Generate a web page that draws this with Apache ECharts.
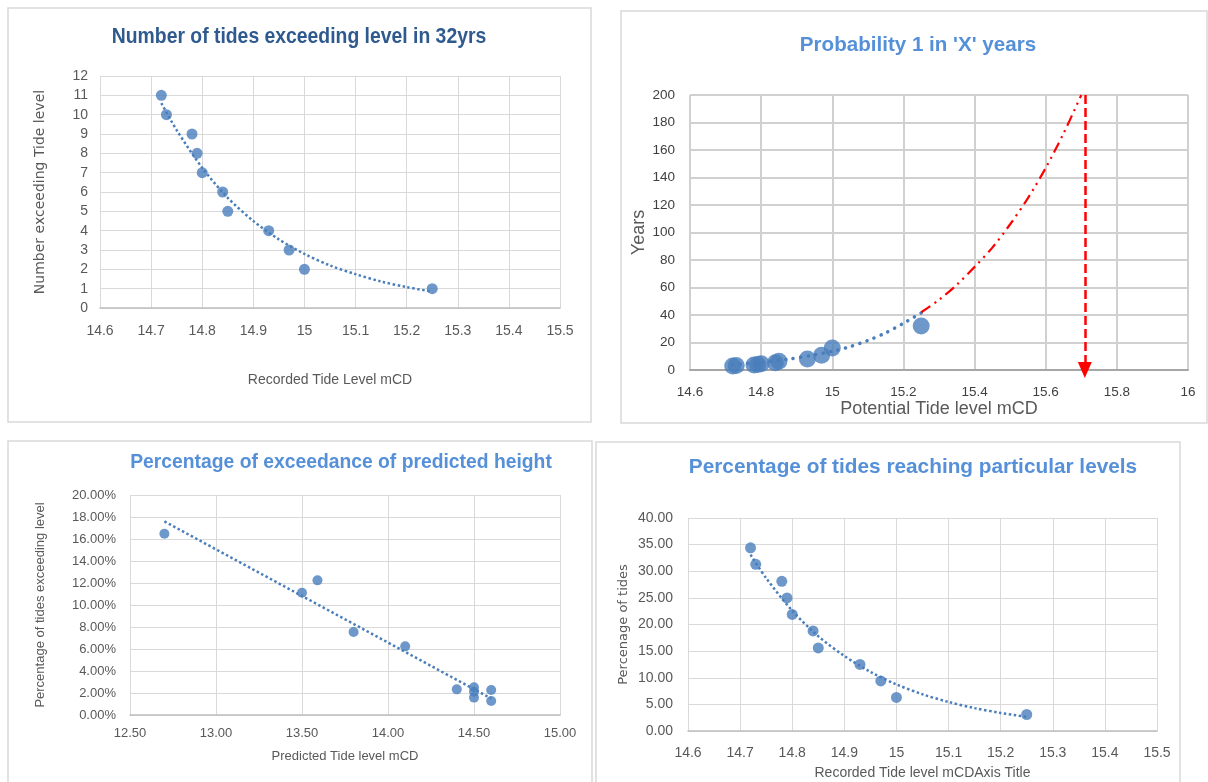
<!DOCTYPE html>
<html>
<head>
<meta charset="utf-8">
<title>Tide levels</title>
<script src="https://cdn.jsdelivr.net/npm/echarts@6/dist/echarts.min.js"></script>
<style>
  html, body { margin: 0; padding: 0; background: #fff; }
  #main { width: 1208px; height: 782px; }
</style>
</head>
<body>
<div id="main"></div>
<script>
// recorded tide levels and how often they were exceeded (32 years of records)
const tideLevels = [14.72, 14.73, 14.78, 14.79, 14.80, 14.84, 14.85, 14.93, 14.97, 15.00, 15.25];
const tideCounts = [11, 10, 9, 8, 7, 6, 5, 4, 3, 2, 1];
const countTrendX = [14.72, 14.75, 14.8, 14.85, 14.9, 14.95, 15.0, 15.05, 15.1, 15.15, 15.2, 15.25];
const countTrendY = [10.6, 9.2, 7.25, 5.7, 4.5, 3.55, 2.8, 2.2, 1.75, 1.37, 1.08, 0.85];

// probability 1 in X years
const returnYears = [2.9, 3.2, 3.6, 4.0, 4.6, 5.3, 6.4, 8.0, 10.7, 16.0, 32.0];
const yearsTrendX = [14.72, 14.8, 14.88, 14.95, 15.0, 15.05, 15.1, 15.15, 15.2, 15.25];
const yearsTrendY = [3.9, 5.6, 8.0, 11.0, 13.6, 17.0, 21.5, 27.0, 34.0, 41.5];
const projX = [15.25, 15.3, 15.35, 15.4, 15.45, 15.5, 15.55, 15.6, 15.65, 15.7];
const projY = [42, 51, 62, 75, 89, 106, 125, 147, 172, 200];
const arrowX = 15.71;
const arrowTop = 200;
const arrowBottom = 0;

// predicted heights
const predictedLevels = [12.70, 13.50, 13.59, 13.80, 14.10, 14.40, 14.50, 14.50, 14.50, 14.60, 14.60];
const exceedPct = [16.48, 11.12, 12.24, 7.55, 6.24, 2.33, 2.52, 2.12, 1.58, 2.27, 1.27];
const exceedTrendX = [12.70, 14.60];
const exceedTrendY = [17.6, 1.5];

// percentage of tides reaching levels
const tidePct = [34.4, 31.3, 28.1, 25.0, 21.9, 18.8, 15.6, 12.5, 9.4, 6.3, 3.1];
const pctTrendY = [33.1, 28.7, 22.6, 17.8, 14.1, 11.1, 8.75, 6.9, 5.45, 4.3, 3.4, 2.65];

const zip = (xs, ys) => xs.map((x, i) => [x, ys[i]]);

const blue = '#4a7ebb';
const grey = '#595959';
const gridGrey = '#d9d9d9';
const sans = "'Liberation Sans', Arial, sans-serif";

function valueAxis(idx, min, max, interval, extra) {
  return Object.assign({
    type: 'value',
    gridIndex: idx,
    min: min,
    max: max,
    interval: interval,
    axisTick: { show: false },
    axisLine: { show: false },
    splitLine: { show: true, lineStyle: { color: gridGrey, width: 1 } },
    axisLabel: { color: grey, fontFamily: sans, fontSize: 14 },
    nameLocation: 'middle',
    nameTextStyle: { color: grey, fontFamily: sans, fontSize: 14 }
  }, extra);
}

function titleText(x, y, text, color, size, scaleX) {
  return {
    type: 'text', x: x, y: y, scaleX: scaleX || 1,
    style: {
      text: text, fill: color,
      font: 'bold ' + size + "px 'Liberation Sans', Arial, sans-serif",
      textAlign: 'center', textVerticalAlign: 'middle'
    }
  };
}

let myChart = echarts.init(document.getElementById('main'), null, { renderer: 'canvas' });

let option = {
  backgroundColor: '#fff',
  animation: false,
  graphic: [
    { type: 'rect', shape: { x: 8, y: 8, width: 583, height: 414 }, style: { fill: 'none', stroke: gridGrey, lineWidth: 1.5 } },
    { type: 'rect', shape: { x: 621, y: 11, width: 586, height: 412 }, style: { fill: 'none', stroke: gridGrey, lineWidth: 1.5 } },
    { type: 'rect', shape: { x: 8, y: 441, width: 584, height: 345 }, style: { fill: 'none', stroke: gridGrey, lineWidth: 1.5 } },
    { type: 'rect', shape: { x: 596, y: 442, width: 584, height: 345 }, style: { fill: 'none', stroke: gridGrey, lineWidth: 1.5 } },
    titleText(299, 37, 'Number of tides exceeding level in 32yrs', '#2f5a8f', 22, 0.88),
    titleText(918, 45, "Probability 1 in 'X' years", '#5590d8', 21, 0.98),
    titleText(341, 463, 'Percentage of exceedance of predicted height', '#5590d8', 19.5, 0.99),
    titleText(913, 467, 'Percentage of tides reaching particular levels', '#5590d8', 21, 0.99)
  ],
  grid: [
    { left: 100, top: 76, width: 460, height: 232 },
    { left: 690, top: 95, width: 498, height: 275 },
    { left: 130, top: 495, width: 430, height: 220 },
    { left: 688, top: 518, width: 469, height: 213 }
  ],
  xAxis: [
    valueAxis(0, 14.6, 15.5, 0.1, {
      name: 'Recorded Tide Level mCD', nameGap: 65,
      axisLine: { show: true, lineStyle: { color: '#bfbfbf', width: 1.5 } },
      axisLabel: { color: grey, fontFamily: sans, fontSize: 14, margin: 16 }
    }),
    valueAxis(1, 14.6, 16, 0.2, {
      name: 'Potential Tide level mCD', nameGap: 28,
      nameTextStyle: { color: grey, fontFamily: sans, fontSize: 18 },
      axisLine: { show: true, lineStyle: { color: '#a6a6a6', width: 2 } },
      splitLine: { show: true, lineStyle: { color: '#d0d0d0', width: 2 } },
      axisLabel: { color: '#404040', fontFamily: sans, fontSize: 13.5, margin: 15 }
    }),
    valueAxis(2, 12.5, 15, 0.5, {
      name: 'Predicted Tide level mCD', nameGap: 35,
      nameTextStyle: { color: grey, fontFamily: sans, fontSize: 13 },
      axisLine: { show: true, lineStyle: { color: '#bfbfbf', width: 1.5 } },
      axisLabel: { color: grey, fontFamily: sans, fontSize: 13, margin: 12, formatter: v => v.toFixed(2) }
    }),
    valueAxis(3, 14.6, 15.5, 0.1, {
      name: 'Recorded Tide level mCDAxis Title', nameGap: 35,
      axisLine: { show: true, lineStyle: { color: '#bfbfbf', width: 1.5 } },
      axisLabel: { color: grey, fontFamily: sans, fontSize: 14, margin: 15 }
    })
  ],
  yAxis: [
    valueAxis(0, 0, 12, 1, {
      name: 'Number exceeding Tide level', nameGap: 53, nameRotate: 90,
      nameTextStyle: { color: grey, fontFamily: "'DejaVu Sans', sans-serif", fontSize: 14 },
      axisLabel: { color: grey, fontFamily: sans, fontSize: 14, margin: 12 }
    }),
    valueAxis(1, 0, 200, 20, {
      name: 'Years', nameGap: 42, nameRotate: 90,
      nameTextStyle: { color: grey, fontFamily: sans, fontSize: 18 },
      splitLine: { show: true, lineStyle: { color: '#d0d0d0', width: 2 } },
      axisLabel: { color: '#404040', fontFamily: sans, fontSize: 13.5, margin: 15 }
    }),
    valueAxis(2, 0, 20, 2, {
      name: 'Percentage of tides exceeding level', nameGap: 83, nameRotate: 90,
      nameTextStyle: { color: grey, fontFamily: sans, fontSize: 13 },
      axisLabel: { color: grey, fontFamily: sans, fontSize: 13, margin: 14, formatter: v => v.toFixed(2) + '%' }
    }),
    valueAxis(3, 0, 40, 5, {
      name: 'Percenage of tides', nameGap: 58, nameRotate: 90,
      nameTextStyle: { color: grey, fontFamily: "'DejaVu Sans', sans-serif", fontSize: 13 },
      axisLabel: { color: grey, fontFamily: sans, fontSize: 14, margin: 15, formatter: v => v.toFixed(2) }
    })
  ],
  series: [
    // panel 1
    {
      type: 'line', xAxisIndex: 0, yAxisIndex: 0, data: zip(countTrendX, countTrendY),
      smooth: 0.3, showSymbol: false, silent: true,
      lineStyle: { color: blue, width: 2.5, type: 'dotted' }
    },
    {
      type: 'scatter', xAxisIndex: 0, yAxisIndex: 0, data: zip(tideLevels, tideCounts),
      symbolSize: 11, itemStyle: { color: blue }
    },
    // panel 2
    {
      type: 'line', xAxisIndex: 1, yAxisIndex: 1, data: zip(yearsTrendX, yearsTrendY),
      smooth: 0.3, showSymbol: false, silent: true,
      lineStyle: { color: blue, width: 3.5, type: [0.1, 7.5], cap: 'round' }
    },
    {
      type: 'line', xAxisIndex: 1, yAxisIndex: 1, data: zip(projX, projY),
      smooth: 0.3, showSymbol: false, silent: true,
      lineStyle: { color: '#ff0000', width: 2.2, type: [11, 5, 2, 5, 2, 5] },
      markLine: {
        silent: true,
        symbol: ['none', 'triangle'],
        symbolSize: [14, 16],
        label: { show: false },
        lineStyle: { color: '#ff0000', width: 2.5, type: [9, 4] },
        data: [[{ coord: [arrowX, arrowTop] }, { coord: [arrowX, arrowBottom] }]]
      }
    },
    {
      type: 'scatter', xAxisIndex: 1, yAxisIndex: 1, data: zip(tideLevels, returnYears),
      symbolSize: 17, itemStyle: { color: blue }
    },
    // panel 3
    {
      type: 'line', xAxisIndex: 2, yAxisIndex: 2, data: zip(exceedTrendX, exceedTrendY),
      showSymbol: false, silent: true,
      lineStyle: { color: blue, width: 2.5, type: 'dotted' }
    },
    {
      type: 'scatter', xAxisIndex: 2, yAxisIndex: 2, data: zip(predictedLevels, exceedPct),
      symbolSize: 10, itemStyle: { color: blue }
    },
    // panel 4
    {
      type: 'line', xAxisIndex: 3, yAxisIndex: 3, data: zip(countTrendX, pctTrendY),
      smooth: 0.3, showSymbol: false, silent: true,
      lineStyle: { color: blue, width: 2.5, type: 'dotted' }
    },
    {
      type: 'scatter', xAxisIndex: 3, yAxisIndex: 3, data: zip(tideLevels, tidePct),
      symbolSize: 11, itemStyle: { color: blue }
    }
  ]
};

myChart.setOption(option);
</script>
</body>
</html>
